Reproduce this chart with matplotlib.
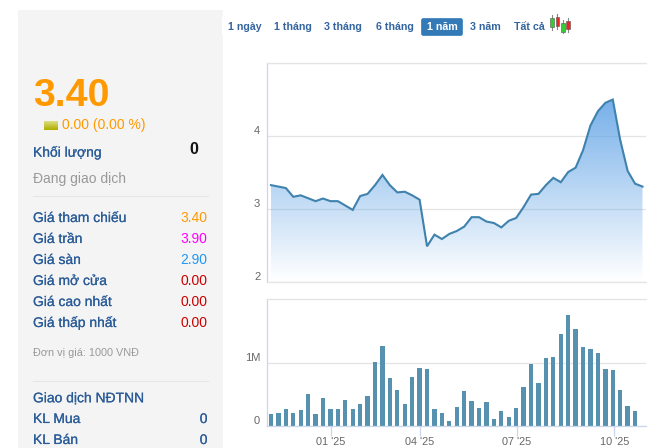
import numpy as np
import matplotlib
matplotlib.use('Agg')
import matplotlib.pyplot as plt
import matplotlib.patheffects as pe
from matplotlib.patches import Rectangle, FancyBboxPatch, Polygon

plt.rcParams['font.family'] = ['Liberation Sans', 'DejaVu Sans']

W, H = 670, 448

prices = [3.33, 3.31, 3.29, 3.17, 3.19, 3.15, 3.11, 3.146, 3.11, 3.11, 3.05, 2.99, 3.18,
          3.21, 3.33, 3.47, 3.33, 3.23, 3.24, 3.19, 3.13, 2.49, 2.65, 2.59, 2.66, 2.70,
          2.76, 2.89, 2.89, 2.83, 2.81, 2.75, 2.84, 2.88, 3.03, 3.20, 3.21, 3.33, 3.43,
          3.37, 3.51, 3.57, 3.81, 4.15, 4.345, 4.46, 4.505, 3.95, 3.525, 3.35, 3.31]
volumes = [0.19, 0.21, 0.27, 0.21, 0.255, 0.51, 0.19, 0.45, 0.27, 0.27, 0.415, 0.27, 0.35,
           0.48, 1.02, 1.28, 0.77, 0.575, 0.35, 0.78, 0.925, 0.91, 0.27, 0.21, 0.08, 0.30,
           0.56, 0.40, 0.29, 0.38, 0.11, 0.24, 0.145, 0.29, 0.62, 0.99, 0.69, 1.085, 1.10,
           1.47, 1.77, 1.55, 1.26, 1.23, 1.165, 0.91, 0.89, 0.575, 0.32, 0.24, 0.0]
month_ticks = [8.1, 20, 33.05, 46.2]
month_labels = ["01 '25", "04 '25", "07 '25", "10 '25"]

tabs = ['1 ngày', '1 tháng', '3 tháng', '6 tháng', '1 năm', '3 năm', 'Tất cả']
tab_x = [228, 274, 324, 376, 427, 470, 514]

quote_labels = ['Giá tham chiếu', 'Giá trần', 'Giá sàn', 'Giá mở cửa', 'Giá cao nhất', 'Giá thấp nhất']
quote_values = ['3.40', '3.90', '2.90', '0.00', '0.00', '0.00']
quote_colors = ['#ff9900', '#ff00ff', '#2196f3', '#cc0000', '#cc0000', '#cc0000']
quote_y = [222, 243, 264, 285, 306, 327]

LABEL = '#2b5c98'
GRID = '#e4e4e4'
AXIS = '#ccd6eb'
TICK = '#666666'


def px_axes(x0, y0, x1, y1):
    return fig.add_axes([x0 / W, 1 - y1 / H, (x1 - x0) / W, (y1 - y0) / H])


def heavy(x, y, s, color, **kw):
    # browser text is a bit heavier than agg at this size
    t = bg.text(x, y, s, color=color, va='baseline', **kw)
    t.set_path_effects([pe.withStroke(linewidth=0.12, foreground=color)])
    return t


fig = plt.figure(figsize=(W / 100, H / 100), dpi=100, facecolor='white')

# page layer in pixel coordinates
bg = fig.add_axes([0, 0, 1, 1])
bg.axis('off')
swatch = np.linspace(0, 1, 10)[:, None]
bg.imshow(swatch, extent=(44, 57.7, 130, 121), aspect='auto', zorder=2,
          cmap=matplotlib.colors.LinearSegmentedColormap.from_list('sw', ['#dcdc80', '#b0b000']))
bg.set_xlim(0, W)
bg.set_ylim(H, 0)
bg.add_patch(Rectangle((18, 10), 205, 438, fc='#f4f4f4', ec='none', zorder=0))
bg.add_patch(Rectangle((221.5, 17), 2, 18, fc='white', ec='none', zorder=1))

bg.text(33, 106, '3.40', color='#ff9900', fontsize=28.4, fontweight='bold', va='baseline')
bg.text(62.5, 129.3, '0.00 (0.00 %)', color='#ff9900', fontsize=10, va='baseline')
heavy(33, 156.7, 'Khối lượng', LABEL, fontsize=10)
bg.text(198, 154.3, '0', color='#111111', fontsize=11.5, fontweight='bold', va='baseline', ha='right')
bg.text(33, 183.3, 'Đang giao dịch', color='#999999', fontsize=10, va='baseline')
bg.plot([33, 208], [196.5, 196.5], color='#e6e6e6', lw=0.8)

for name, val, col, y in zip(quote_labels, quote_values, quote_colors, quote_y):
    heavy(33, y, name, LABEL, fontsize=10)
    bg.text(207.5, y, val, color=col, fontsize=10, ha='right', va='baseline')

bg.text(33, 356.3, 'Đơn vị giá: 1000 VNĐ', color='#999999', fontsize=7.8, va='baseline')
bg.plot([33, 208], [381, 381], color='#e6e6e6', lw=0.8)
heavy(33, 402.3, 'Giao dịch NĐTNN', LABEL, fontsize=10)
heavy(33, 423, 'KL Mua', LABEL, fontsize=10)
heavy(207.5, 423, '0', LABEL, fontsize=10, ha='right')
heavy(33, 444, 'KL Bán', LABEL, fontsize=10)
heavy(207.5, 444, '0', LABEL, fontsize=10, ha='right')

# range tabs
bg.add_patch(FancyBboxPatch((421.5, 18.5), 41, 17, boxstyle='round,pad=0,rounding_size=2',
                            fc='#337ab7', ec='#337ab7', lw=0.5))
for name, x in zip(tabs, tab_x):
    bg.text(x, 30, name, color='white' if name == '1 năm' else '#34659f', fontsize=7.7,
            fontweight='bold', va='baseline')

# candlestick icon
candles = [(552, 18, 27.5, 15.5, 30.5, '#33cc33'), (557.3, 17.5, 26.5, 14.5, 29.5, '#ee2222'),
           (562.7, 23, 32, 20, 33.5, '#33cc33'), (568, 21.5, 29, 18, 32.5, '#ee2222')]
for cx, top, bot, wtop, wbot, col in candles:
    bg.plot([cx, cx], [wtop, wbot], color='#888888', lw=0.8, zorder=2)
    bg.add_patch(Rectangle((cx - 1.8, top), 3.6, bot - top, fc=col, ec='#555555', lw=0.4, zorder=3))

# price panel, one index step is 7.43 px starting at 271 px
x_lo = (266.5 - 271) / 7.43
x_hi = (646 - 271) / 7.43
idx = np.arange(len(prices))

ax = px_axes(266.5, 63.5, 646, 282)
ax.patch.set_alpha(0)
ax.set_xlim(x_lo, x_hi)
ax.set_ylim(2, 5)
ax.set_yticks([2, 3, 4, 5])
ax.set_yticklabels(['2', '3', '4', ''], va='bottom')
ax.set_xticks([])
ax.grid(axis='y', color=GRID, lw=0.9, zorder=0)
ax.set_axisbelow(True)

grad = np.zeros((200, 2, 4))
grad[..., 0] = 0.36
grad[..., 1] = 0.63
grad[..., 2] = 0.90
grad[..., 3] = np.linspace(0.85, 0.0, 200)[:, None]
img = ax.imshow(grad, extent=(0, len(prices) - 1, 2, 4.55), origin='upper', aspect='auto',
                zorder=1, interpolation='bilinear')
clip = Polygon(np.column_stack([np.r_[idx, idx[-1], 0], np.r_[prices, 2, 2]]),
               transform=ax.transData, fc='none', ec='none')
ax.add_patch(clip)
img.set_clip_path(clip)
ax.set_xlim(x_lo, x_hi)
ax.set_ylim(2, 5)
ax.plot(idx, prices, color='#3f82ad', lw=1.5, zorder=3, solid_joinstyle='miter')

# volume panel
ax2 = px_axes(266.5, 298.5, 646, 426)
ax2.patch.set_alpha(0)
ax2.bar(idx, np.array(volumes) * 1e6, width=0.58, color='#5691b0', zorder=2)
ax2.set_xlim(x_lo, x_hi)
ax2.set_ylim(0, 2.03e6)
ax2.set_yticks([0, 1e6])
ax2.set_yticklabels(['0', '1M'], va='bottom')
ax2.set_xticks(month_ticks)
ax2.set_xticklabels(month_labels)
ax2.grid(axis='y', color=GRID, lw=0.9, zorder=0)
ax2.set_axisbelow(True)

for a in (ax, ax2):
    a.spines['right'].set_visible(False)
    a.spines['top'].set_color(GRID)
    a.spines['top'].set_linewidth(0.9)
    a.spines['left'].set_color(AXIS)
    a.spines['left'].set_linewidth(0.9)
    a.spines['bottom'].set_linewidth(0.9)
    a.tick_params(axis='y', length=0, pad=4.5, labelsize=8, labelcolor=TICK)
ax.spines['bottom'].set_color(GRID)
ax2.spines['bottom'].set_color(AXIS)
ax2.tick_params(axis='x', length=7.2, width=0.9, color=AXIS, pad=0.5, labelsize=7.8, labelcolor=TICK)

fig.savefig('out.png', dpi=100)
